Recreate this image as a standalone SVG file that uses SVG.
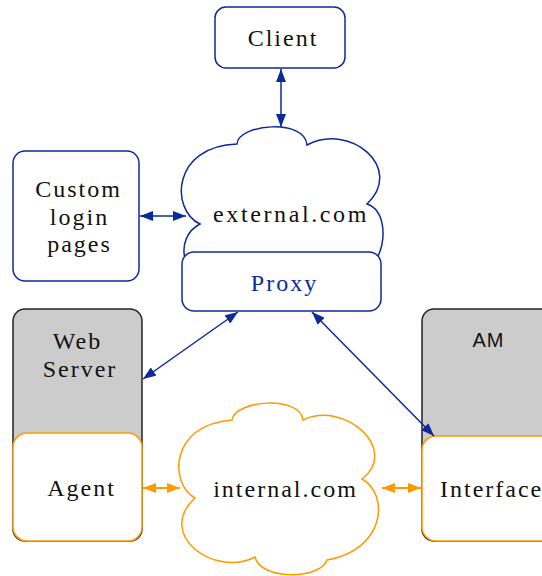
<svg xmlns="http://www.w3.org/2000/svg" width="542" height="576" viewBox="0 0 542 576">
<defs>
<style>
.bbox{fill:#fff;stroke:#0c2a9c;stroke-width:1.5}
.gbox{fill:#cccccc;stroke:#222;stroke-width:1.5}
.obox{fill:#fff;stroke:#ff9900;stroke-width:1.5}
.bcloud{fill:#fff;stroke:#0c2a9c;stroke-width:1.5}
.ocloud{fill:#fff;stroke:#ff9900;stroke-width:1.5}
.t{font-family:"Liberation Serif","Times New Roman",serif;font-size:24px;letter-spacing:2px;fill:#111;text-anchor:middle}
.tb{fill:#0c2a9c}
.s{font-family:"Liberation Sans",Arial,sans-serif;font-size:20px;letter-spacing:1px;fill:#111;text-anchor:middle}
.bl{stroke:#0c2a9c;stroke-width:1.5;fill:none}
.ol{stroke:#ff9900;stroke-width:2;fill:none}
</style>
<marker id="ab" viewBox="0 0 13 10" refX="13" refY="5" markerWidth="13" markerHeight="10" markerUnits="userSpaceOnUse" orient="auto-start-reverse"><path d="M0,0 L13,5 L0,10 z" fill="#0c2a9c"/></marker>
<marker id="ao" viewBox="0 0 13 10" refX="13" refY="5" markerWidth="13" markerHeight="10" markerUnits="userSpaceOnUse" orient="auto-start-reverse"><path d="M0,0 L13,5 L0,10 z" fill="#ff9900"/></marker>
</defs>

<g id="client">
<rect class="bbox" x="215" y="7" width="130" height="61" rx="11"/>
<text class="t" x="283" y="46">Client</text>
</g>

<g id="custom-login">
<rect class="bbox" x="13" y="151" width="126" height="130" rx="12"/>
<text class="t" x="78.5" y="197">Custom</text>
<text class="t" x="79.5" y="225">login</text>
<text class="t" x="79.5" y="252">pages</text>
</g>

<g id="external">
<path class="bcloud" d="M200,224 C170,210 172,146 237,144 C238,124 305,118 307,145 C350,122 405,168 367,204 C385,210 388,240 375,262 L186,262 C180,245 188,230 200,224 Z"/>
<text class="t" x="291" y="222" style="letter-spacing:2.6px">external.com</text>
</g>

<g id="proxy">
<rect class="bbox" x="182" y="252" width="199" height="59" rx="12"/>
<text class="t tb" x="284.5" y="291">Proxy</text>
</g>

<g id="web-server">
<rect class="gbox" x="13" y="309" width="129" height="232" rx="12"/>
<text class="t" x="77.5" y="349">Web</text>
<text class="t" x="80" y="377">Server</text>
</g>

<g id="agent">
<rect class="obox" x="13" y="433" width="129" height="108" rx="14"/>
<text class="t" x="81.5" y="496">Agent</text>
</g>

<g id="am">
<rect class="gbox" x="422" y="309" width="140" height="232" rx="12"/>
<text class="s" x="488.5" y="347">AM</text>
</g>

<g id="interface">
<rect class="obox" x="422" y="436" width="140" height="105" rx="14"/>
<text class="t" x="440" y="497" style="text-anchor:start">Interface</text>
</g>

<g id="internal">
<path class="ocloud" d="M195,498 C170,485 168,425 232,420 C235,400 300,395 303,420 C345,400 400,450 362,479 C390,495 385,550 327,560 C320,580 260,580 255,557 C215,578 155,535 195,498 Z"/>
<text class="t" x="285.5" y="497">internal.com</text>
</g>

<g id="connectors">
<path class="bl" d="M281,69 L281,127" marker-start="url(#ab)" marker-end="url(#ab)"/>
<path class="bl" d="M140,216 L186,216" marker-start="url(#ab)" marker-end="url(#ab)"/>
<path class="bl" d="M238,312 L143,379" marker-start="url(#ab)" marker-end="url(#ab)"/>
<path class="bl" d="M312,312 L434,436" marker-start="url(#ab)" marker-end="url(#ab)"/>
<path class="ol" d="M143,488 L180,488" marker-start="url(#ao)" marker-end="url(#ao)"/>
<path class="ol" d="M382,488 L421,488" marker-start="url(#ao)" marker-end="url(#ao)"/>
</g>
</svg>
